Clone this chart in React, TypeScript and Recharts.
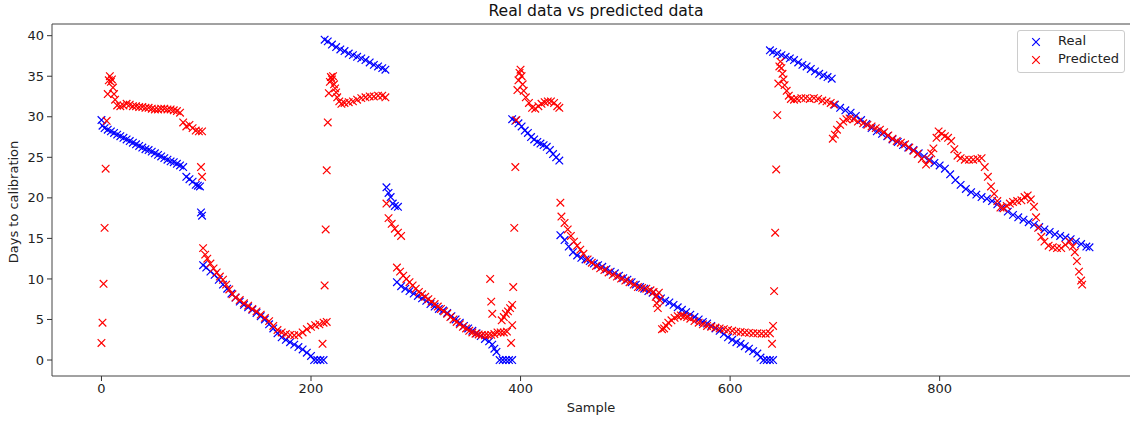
import React from 'react';
import { ScatterChart, Scatter, XAxis, YAxis, ReferenceArea } from 'recharts';

// [sample, days to calibration]
const realPoints: [number, number][] = [
  [0, 29.6], [1, 28.9], [3, 28.6], [6, 28.4], [9, 28.2], [12, 28.0], [15, 27.8], [18, 27.6], [21, 27.4], [24, 27.2],
  [27, 27.0], [30, 26.8], [33, 26.6], [36, 26.4], [39, 26.2], [42, 26.0], [45, 25.9], [48, 25.7], [51, 25.5], [54, 25.3],
  [57, 25.1], [60, 24.9], [63, 24.7], [66, 24.5], [69, 24.4], [72, 24.2], [75, 24.0], [78, 23.8], [81, 22.6], [84, 22.3],
  [87, 22.0], [90, 21.6], [92, 21.5], [94, 21.4], [95, 18.2], [96, 17.8],
  [97, 11.7], [100, 11.4], [104, 10.9], [108, 10.5], [112, 9.9], [116, 9.3], [120, 8.8], [124, 8.2], [128, 7.7], [132, 7.2],
  [136, 6.8], [140, 6.5], [144, 6.2], [148, 5.8], [152, 5.4], [156, 5.0], [160, 4.4], [164, 3.9], [168, 3.3], [172, 2.8],
  [176, 2.5], [180, 2.2], [184, 1.9], [188, 1.6], [192, 1.3], [196, 0.9], [200, 0.5], [203, 0], [206, 0], [209, 0], [212, 0],
  [213, 39.5], [216, 39.3], [220, 38.9], [224, 38.6], [228, 38.3], [232, 38.1], [236, 37.8], [240, 37.6], [244, 37.4],
  [248, 37.2], [252, 37.0], [256, 36.7], [260, 36.4], [264, 36.2], [268, 36.0], [271, 35.8],
  [272, 21.3], [274, 20.6], [276, 20.1], [278, 19.3], [280, 19.0], [283, 18.9],
  [282, 9.6], [286, 9.1], [290, 8.8], [294, 8.5], [298, 8.2], [302, 7.9], [306, 7.6], [310, 7.3], [314, 6.9], [318, 6.6],
  [322, 6.3], [326, 6.1], [330, 5.8], [334, 5.4], [338, 5.0], [342, 4.6], [346, 4.2], [350, 3.9], [354, 3.6], [358, 3.3],
  [362, 2.95], [366, 2.6], [370, 2.3], [373, 1.9], [375, 1.4], [377, 1.0], [380, 0], [383, 0], [386, 0], [389, 0], [392, 0],
  [392, 29.7], [395, 29.5], [398, 29.2], [401, 28.8], [404, 28.3], [407, 28.0], [410, 27.5], [413, 27.2], [416, 26.9],
  [419, 26.7], [422, 26.5], [425, 26.3], [428, 25.9], [431, 25.4], [434, 25.0], [437, 24.6],
  [438, 15.4], [442, 14.8], [446, 14.0], [450, 13.3], [454, 12.9], [458, 12.6], [462, 12.4], [466, 12.2], [470, 11.9],
  [474, 11.7], [478, 11.5], [482, 11.2], [486, 10.9], [490, 10.7], [494, 10.4], [498, 10.1], [502, 9.9], [506, 9.6],
  [510, 9.3], [514, 9.0], [518, 8.8], [522, 8.5], [526, 8.3], [530, 8.0], [534, 7.6], [538, 7.3], [542, 7.1], [546, 6.8],
  [550, 6.5], [554, 6.2], [558, 5.9], [562, 5.6], [566, 5.3], [570, 5.0], [574, 4.7], [578, 4.5], [582, 4.2], [586, 3.9],
  [590, 3.6], [594, 3.2], [598, 2.8], [602, 2.5], [606, 2.2], [610, 2.0], [614, 1.7], [618, 1.4], [622, 1.1], [626, 0.8],
  [629, 0.3], [632, 0], [635, 0], [638, 0], [641, 0],
  [638, 38.2], [641, 38.0], [645, 37.8], [649, 37.6], [653, 37.4], [657, 37.2], [661, 37.0], [665, 36.7], [669, 36.4],
  [673, 36.2], [677, 35.9], [681, 35.6], [685, 35.3], [689, 35.1], [693, 34.9], [697, 34.7],
  [700, 31.5], [705, 31.1], [710, 30.8], [715, 30.5], [720, 30.1], [725, 29.6], [730, 29.1], [735, 28.6], [740, 28.2],
  [745, 27.9], [750, 27.6], [755, 27.2], [760, 26.9], [765, 26.5], [770, 26.2], [775, 25.9], [780, 25.5], [785, 25.1],
  [790, 24.7], [795, 24.3], [800, 24.0], [805, 23.6], [810, 22.9], [815, 22.2], [820, 21.6], [825, 21.1], [830, 20.7],
  [835, 20.4], [840, 20.1], [845, 19.9], [850, 19.6], [855, 19.2], [860, 18.8], [865, 18.3], [870, 17.9], [875, 17.6],
  [880, 17.3], [885, 17.0], [890, 16.7], [895, 16.4], [900, 16.1], [905, 15.8], [910, 15.5], [915, 15.3], [920, 15.1],
  [925, 14.9], [930, 14.6], [935, 14.3], [940, 14.0], [943, 13.9],
];

const predictedPoints: [number, number][] = [
  [0, 2.1], [1, 4.6], [2, 9.4], [3, 16.3], [4, 23.6], [5, 29.5], [6, 32.8], [7, 34.5], [8, 35.0], [9, 34.3], [10, 34.6],
  [11, 33.6], [12, 32.8], [13, 32.1], [15, 31.4], [18, 31.3], [21, 31.4], [24, 31.6], [27, 31.5], [30, 31.3], [33, 31.3],
  [36, 31.2], [39, 31.2], [42, 31.1], [45, 31.1], [48, 31.0], [51, 30.9], [54, 30.9], [57, 31.0], [60, 31.0], [63, 30.9],
  [66, 30.9], [69, 30.8], [72, 30.7], [75, 30.5], [78, 29.3], [81, 28.8], [84, 29.0], [87, 28.6], [90, 28.3], [93, 28.2],
  [95, 23.8], [96, 22.6], [96, 28.2],
  [97, 13.8], [99, 13.0], [101, 12.5], [104, 11.9], [107, 11.3], [110, 10.8], [113, 10.3], [116, 9.9], [119, 9.3],
  [122, 8.7], [125, 8.1], [128, 7.7], [132, 7.4], [136, 7.0], [140, 6.7], [144, 6.3], [148, 6.0], [152, 5.6], [156, 5.2],
  [160, 4.8], [164, 4.2], [168, 3.7], [172, 3.4], [176, 3.2], [180, 3.1], [184, 3.05], [188, 3.1], [192, 3.4], [196, 3.8],
  [200, 4.1], [204, 4.3], [208, 4.4], [212, 4.6], [215, 4.7], [211, 2.0],
  [213, 9.2], [214, 16.1], [215, 23.4], [216, 29.3], [217, 32.9], [218, 34.3], [219, 34.9], [220, 34.6], [221, 35.0],
  [222, 34.0], [223, 33.5], [224, 33.0], [225, 32.4], [227, 31.9], [229, 31.6], [232, 31.7], [236, 31.8], [240, 31.9],
  [244, 32.1], [248, 32.3], [252, 32.4], [256, 32.5], [260, 32.5], [264, 32.6], [268, 32.6], [271, 32.4],
  [272, 19.3], [274, 17.5], [277, 16.8], [280, 16.2], [283, 15.7], [286, 15.3],
  [282, 11.4], [285, 10.9], [288, 10.4], [291, 10.0], [294, 9.6], [297, 9.2], [300, 8.8], [303, 8.4], [306, 8.1],
  [309, 7.8], [312, 7.5], [315, 7.2], [318, 6.9], [321, 6.6], [324, 6.3], [327, 6.0], [330, 5.7], [333, 5.3], [336, 5.0],
  [339, 4.7], [342, 4.4], [345, 4.1], [348, 3.9], [351, 3.6], [354, 3.4], [357, 3.25], [360, 3.15], [363, 3.1],
  [366, 3.05], [369, 3.05], [372, 3.1], [375, 3.2], [378, 3.4], [381, 3.4], [384, 3.4], [387, 3.5],
  [371, 10.0], [372, 7.2], [373, 5.7], [382, 4.9], [384, 5.3], [386, 5.7], [388, 6.0], [390, 6.4], [392, 6.8],
  [391, 2.1], [392, 4.3], [393, 9.0],
  [394, 16.3], [395, 23.8], [396, 29.6], [397, 33.3], [398, 34.5], [399, 35.4], [400, 35.8], [401, 35.0], [402, 34.0],
  [403, 33.2], [405, 32.4], [408, 31.7], [411, 31.1], [414, 31.0], [417, 31.3], [420, 31.6], [423, 31.8], [426, 31.9],
  [429, 31.9], [432, 31.7], [435, 31.3], [437, 31.1],
  [438, 19.4], [439, 17.7], [442, 16.9], [445, 16.1], [448, 15.3], [451, 14.6], [454, 14.1], [457, 13.6], [460, 13.1],
  [464, 12.4], [468, 12.0], [472, 11.6], [476, 11.3], [480, 11.1], [484, 10.8], [488, 10.5], [492, 10.3], [496, 10.05],
  [500, 9.8], [504, 9.6], [508, 9.3], [512, 9.0], [516, 8.9], [520, 8.8], [524, 8.6], [527, 8.4], [529, 7.8], [530, 7.0],
  [531, 6.4], [532, 8.3], [533, 7.4], [535, 3.8], [537, 3.9], [539, 4.2], [541, 4.6], [544, 4.9], [547, 5.2], [550, 5.4],
  [553, 5.5], [556, 5.4], [559, 5.3], [562, 5.1], [566, 4.8], [570, 4.6], [574, 4.4], [578, 4.2], [582, 4.1], [586, 4.0],
  [590, 3.9], [594, 3.8], [598, 3.7], [602, 3.6], [606, 3.5], [610, 3.45], [614, 3.4], [618, 3.35], [622, 3.3],
  [626, 3.3], [630, 3.25], [634, 3.25], [638, 3.3],
  [640, 2.0], [641, 4.2], [642, 8.5], [643, 15.7], [644, 23.5], [645, 30.2],
  [646, 34.1], [647, 36.2], [648, 36.8], [649, 36.0], [650, 35.3], [651, 34.6], [652, 33.9], [654, 33.2], [656, 32.6],
  [658, 32.2], [661, 32.1], [664, 32.2], [668, 32.3], [672, 32.3], [676, 32.2], [680, 32.3], [684, 32.2], [688, 32.0],
  [692, 31.9], [696, 31.7], [699, 31.5],
  [698, 27.3], [700, 27.8], [702, 28.4], [705, 29.0], [708, 29.4], [711, 29.7], [714, 29.8], [718, 29.7], [722, 29.4],
  [727, 29.2], [731, 29.0], [735, 28.8], [739, 28.6], [743, 28.4], [747, 28.1], [751, 27.7], [755, 27.3], [759, 27.0],
  [763, 26.8], [767, 26.6], [771, 26.2], [775, 25.8], [779, 25.4], [783, 24.8], [787, 24.1], [790, 24.6], [792, 25.5],
  [794, 26.1], [797, 27.4], [799, 28.2], [802, 27.9], [805, 27.6], [808, 27.4], [811, 27.0], [814, 26.0], [817, 25.2],
  [820, 24.9], [824, 24.7], [828, 24.7], [832, 24.7], [836, 24.8], [840, 24.9], [843, 23.8], [846, 22.6], [849, 21.4],
  [852, 20.5], [855, 19.6], [858, 18.8], [861, 18.7], [864, 19.0], [867, 19.3], [870, 19.5], [874, 19.6], [878, 19.7],
  [881, 20.1], [884, 20.3], [887, 19.8], [890, 18.9], [892, 17.6], [894, 16.3], [897, 15.2], [900, 14.6], [904, 14.1],
  [908, 13.9], [912, 13.8], [916, 13.8], [920, 14.2], [924, 14.6], [927, 14.0], [929, 13.3], [931, 12.2], [933, 10.9],
  [935, 9.8], [936, 9.3],
];

const xTicks = [0, 200, 400, 600, 800];
const yTicks = [0, 5, 10, 15, 20, 25, 30, 35, 40];
const X_DOMAIN: [number, number] = [-47.2, 991.2];
const Y_DOMAIN: [number, number] = [-1.97, 41.44];

const realData = realPoints.map(([sample, days]) => ({ sample, days }));
const predictedData = predictedPoints.map(([sample, days]) => ({ sample, days }));

const FONT = '"DejaVu Sans", Verdana, sans-serif';

const XMark = (props: any) => {
  const { cx, cy, fill } = props;
  if (cx == null || cy == null) return null;
  const r = 3.8;
  return (
    <path
      d={`M${cx - r},${cy - r}L${cx + r},${cy + r}M${cx - r},${cy + r}L${cx + r},${cy - r}`}
      stroke={fill}
      strokeWidth={1.2}
      fill="none"
    />
  );
};

const LegendMark = ({ color }: { color: string }) => (
  <svg width={10} height={10} style={{ display: 'block' }}>
    <path d="M1.2,1.2L8.8,8.8M1.2,8.8L8.8,1.2" stroke={color} strokeWidth={1.2} />
  </svg>
);

const App: React.FC = () => {
  const tickStyle = { fontSize: 13, fill: '#222', fontFamily: FONT };
  return (
    <div
      style={{
        position: 'absolute',
        left: 0,
        top: 0,
        width: 1130,
        height: 421,
        overflow: 'hidden',
        background: '#fff',
        fontFamily: FONT,
      }}
    >
      <div style={{ position: 'absolute', left: 0, top: 2, width: 1192, textAlign: 'center', fontSize: 15.6, color: '#111' }}>
        Real data vs predicted data
      </div>
      <div
        style={{
          position: 'absolute',
          left: 12.5,
          top: 202,
          transform: 'translate(-50%, -50%) rotate(-90deg)',
          whiteSpace: 'nowrap',
          fontSize: 13,
          color: '#222',
        }}
      >
        Days to calibration
      </div>
      <div style={{ position: 'absolute', left: 491, top: 400, width: 200, textAlign: 'center', fontSize: 13, color: '#222' }}>
        Sample
      </div>

      <ScatterChart width={1150} height={421} margin={{ top: 24, right: 10, bottom: 0, left: 0 }}>
        <XAxis
          type="number"
          dataKey="sample"
          domain={X_DOMAIN}
          ticks={xTicks}
          allowDataOverflow
          height={45}
          tickSize={5}
          tickMargin={3}
          axisLine={false}
          tickLine={{ stroke: '#333' }}
          tick={tickStyle}
        />
        <YAxis
          type="number"
          dataKey="days"
          domain={Y_DOMAIN}
          ticks={yTicks}
          allowDataOverflow
          width={52}
          tickSize={5}
          tickMargin={3}
          axisLine={false}
          tickLine={{ stroke: '#333' }}
          tick={tickStyle}
        />
        <ReferenceArea
          x1={X_DOMAIN[0]}
          x2={X_DOMAIN[1]}
          y1={Y_DOMAIN[0]}
          y2={Y_DOMAIN[1]}
          fill="none"
          stroke="#444"
          strokeWidth={1}
        />
        <Scatter name="Real" data={realData} fill="#0000ff" shape={XMark} isAnimationActive={false} />
        <Scatter name="Predicted" data={predictedData} fill="#ff0000" shape={XMark} isAnimationActive={false} />
      </ScatterChart>

      <div
        style={{
          position: 'absolute',
          left: 1017,
          top: 30,
          width: 106,
          height: 41,
          border: '1px solid #ccc',
          borderRadius: 3,
          background: 'rgba(255,255,255,0.8)',
          fontSize: 13,
          color: '#222',
        }}
      >
        <div style={{ position: 'absolute', left: 13, top: 5.5 }}>
          <LegendMark color="#0000ff" />
        </div>
        <div style={{ position: 'absolute', left: 40, top: 2 }}>Real</div>
        <div style={{ position: 'absolute', left: 13, top: 23.5 }}>
          <LegendMark color="#ff0000" />
        </div>
        <div style={{ position: 'absolute', left: 40, top: 20 }}>Predicted</div>
      </div>
    </div>
  );
};

export default App;
